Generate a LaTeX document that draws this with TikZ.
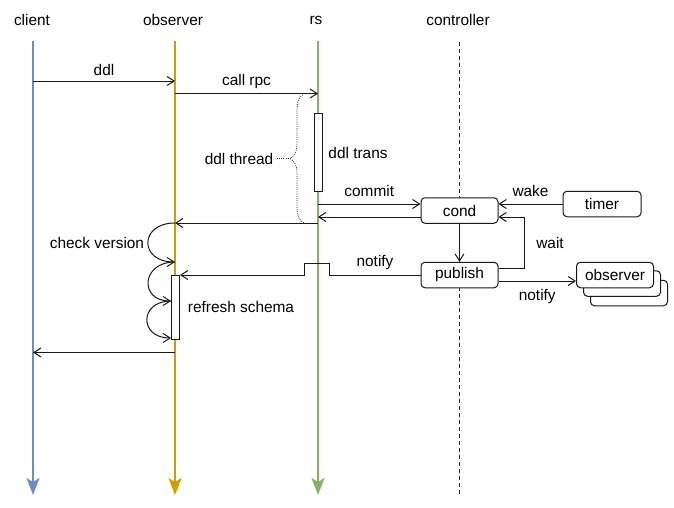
\documentclass[tikz,border=0pt]{standalone}
\usepackage{fontspec}
\setmainfont{Liberation Sans}
\usepackage{tikz}
\usetikzlibrary{arrows.meta,calc,positioning,decorations.pathreplacing}

\definecolor{LineBlue}{HTML}{6C8EBF}
\definecolor{LineOrange}{HTML}{D79B00}
\definecolor{LineGreen}{HTML}{82B366}

\begin{document}
\begin{tikzpicture}[
    x=1pt, y=-1pt,
    every node/.style={font=\fontsize{15.4}{18}\selectfont},
    lifeline/.style={line width=2.4pt, -{Stealth[length=17pt, width=13pt, inset=4pt]}},
    msg/.style={draw=black!90, line width=1pt, -{Straight Barb[length=7pt, width=9pt]}},
    box/.style={draw=black!90, fill=white, line width=1pt, rounded corners=4pt, minimum width=77pt, minimum height=25.5pt, inner sep=0pt},
    act/.style={draw=black!90, fill=white, line width=1pt, minimum width=8pt, inner sep=0pt},
    thin dots/.style={draw=black!80, line width=0.8pt, dash pattern=on 1pt off 1.2pt}
]
    \useasboundingbox (0,0) rectangle (674,507);

    % --- Lifelines ---
    \node (client) at (32,20) {client};
    \node (observer) at (173,20) {observer};
    \node (rs) at (316,20) {rs};
    \node (controller) at (458,20) {controller};
    \foreach \n/\x/\c in {client/33/LineBlue, observer/175/LineOrange, rs/318/LineGreen} {
        \coordinate (\n-top) at (\x,41);
        \coordinate (\n-bot) at (\x,495);
        \draw[lifeline, draw=\c] (\n-top) -- (\n-bot);
    }
    \coordinate (controller-top) at (459,42);
    \coordinate (controller-bot) at (459,495);
    \draw[black!85, line width=1pt, dash pattern=on 4pt off 3pt] (controller-top) -- (controller-bot);

    % --- Rows ---
    \coordinate (row-ddl) at (0,81);
    \coordinate (row-rpc) at (0,93.5);
    \coordinate (row-back) at (0,223);
    \coordinate (row-ret) at (0,352.5);

    % --- Boxes ---
    \node[box] (cond) at (459.5,210.5) {cond};
    \node[box] (publish) at (459.5,275) {publish};
    \node[box, minimum width=78pt] (timer) at (602,204) {timer};
    \node[box] (obs3) at (629,293) {};
    \node[box] (obs2) at (622,283.5) {};
    \node[box] (obs1) at (615,275) {observer};

    % activations
    \node[act, minimum height=78pt] (trans) at (318,152) {};
    \node[act, minimum height=64pt] (refresh) at (175.5,307) {};
    \node (translbl) at (358,153) {ddl trans};
    \node (refreshlbl) at (241,307) {refresh schema};
    \node (checklbl) at (97,243) {check version};

    % --- Messages ---
    \draw[msg] (client-top |- row-ddl) -- node[above=2pt]{ddl} (observer-top |- row-ddl);
    \draw[msg] (observer-top |- row-rpc) -- node[above=1pt]{call rpc} (rs-top |- row-rpc);

    \coordinate (condIn) at ([yshift=6.5pt]cond.west);
    \coordinate (condOut) at ([yshift=-6.5pt]cond.west);
    \draw[msg] (rs-top |- condIn) -- node[above=4pt]{commit} (condIn);
    \draw[msg] (condOut) -- (rs-top |- condOut);
    \draw[msg] (rs-top |- row-back) -- (observer-top |- row-back);

    \draw[msg] (timer.west) -- node[above=4pt]{wake} (timer.west -| cond.east);
    \draw[msg] (cond.south) -- (publish.north);
    \draw[msg] ([yshift=6.5pt]publish.east) -- ++(26,0) |- node[pos=0.25, right=8pt]{wait} ([yshift=-6.5pt]cond.east);

    \coordinate (pubOut) at ([yshift=-6pt]publish.east);
    \draw[msg] (pubOut) -- node[below=4pt]{notify} (pubOut -| obs1.west);

    % notify hops over the rs lifeline
    \draw[msg] (publish.west) -- node[above=1pt]{notify} ++(-91,0) -- ++(0,-12) -- ++(-25,0) -- ++(0,12) -- (refresh.east |- publish.west);

    % --- check version loops ---
    \coordinate (loop1) at (observer-top |- 0,262);
    \coordinate (loop2) at (refresh.west |- 0,301);
    \coordinate (loop3) at (refresh.west |- 0,338);
    \draw[msg] (observer-top |- row-back) .. controls ++(-36,0) and ($(loop1)+(-36,0)$) .. (loop1);
    \draw[msg] (loop1) .. controls ++(-34,0) and ($(loop2)+(-32,0)$) .. (loop2);
    \draw[msg] (loop2) .. controls ++(-32,0) and ($(loop3)+(-32,0)$) .. (loop3);

    \draw[msg] (observer-top |- row-ret) -- (client-top |- row-ret);

    % --- ddl thread brace ---
    \coordinate (thread-bot) at (304,223);
    \coordinate (thread-top) at (304,94);
    \coordinate (thread-tip) at (290,158.5);
    \draw[thin dots, decorate, decoration={brace, amplitude=14pt}] (thread-bot) -- (thread-top);
    \node (threadlbl) at (239,158.5) {ddl thread};
    \draw[thin dots] (threadlbl.east) -- (thread-tip);

\end{tikzpicture}
\end{document}
